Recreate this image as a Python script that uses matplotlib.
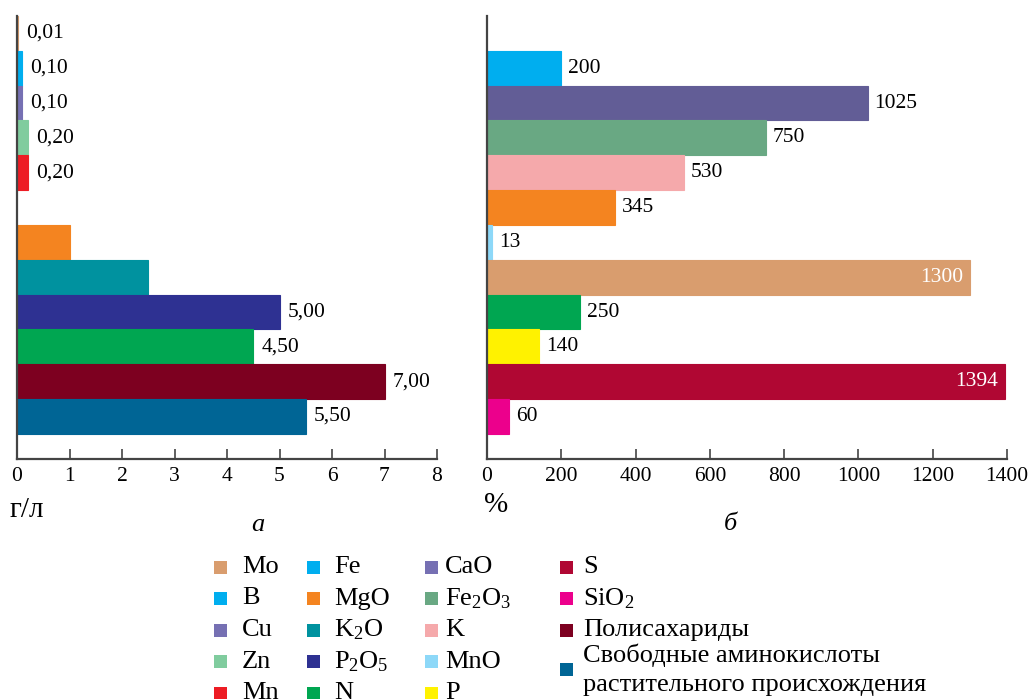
import numpy as np
import matplotlib.pyplot as plt
from matplotlib.patches import Rectangle

plt.rcParams['font.family'] = ['Liberation Serif', 'DejaVu Serif']
plt.rcParams['mathtext.fontset'] = 'stix'

# panel a: concentration, g/l (blank slot separates trace elements from the rest)
names_a = ['Mo', 'B', 'Cu', 'Zn', 'Mn', '', 'MgO', 'K2O', 'P2O5', 'N',
           'Полисахариды', 'Аминокислоты']
values_a = [0.01, 0.10, 0.10, 0.20, 0.20, np.nan, 1.0, 2.5, 5.0, 4.5, 7.0, 5.5]
labeled_a = [True, True, True, True, True, False, False, False, True, True, True, True]
colors_a = ['#D99D6E', '#00AEEF', '#7670B3', '#80CC9E', '#ED1C24', 'none',
            '#F48420', '#00929F', '#2E3192', '#00A651', '#7D0020', '#006595']

# panel b: percent
names_b = ['', 'Fe', 'CaO', 'Fe2O3', 'K', 'MgO', 'MnO', 'Mo', 'N', 'P', 'S', 'SiO2']
values_b = [np.nan, 200, 1025, 750, 530, 345, 13, 1300, 250, 140, 1394, 60]
colors_b = ['none', '#00AEEF', '#625D96', '#69A883', '#F5A9AB', '#F48420',
            '#8DD8F8', '#D99D6E', '#00A651', '#FFF200', '#B00733', '#EC008C']

# legend, column by column
legend_cols = [
    [('Mo', '#D99D6E'), ('B', '#00AEEF'), ('Cu', '#7670B3'), ('Zn', '#80CC9E'), ('Mn', '#ED1C24')],
    [('Fe', '#00AEEF'), ('MgO', '#F48420'), (r'K$\mathregular{_2}$O', '#00929F'),
     (r'P$\mathregular{_2}$O$\mathregular{_5}$', '#2E3192'), ('N', '#00A651')],
    [('CaO', '#7670B3'), (r'Fe$\mathregular{_2}$O$\mathregular{_3}$', '#69A883'), ('K', '#F5A9AB'),
     ('MnO', '#8DD8F8'), ('P', '#FFF200')],
    [('S', '#B00733'), (r'SiO$\mathregular{_2}$', '#EC008C'), ('Полисахариды', '#7D0020'),
     ('Свободные аминокислоты\nрастительного происхождения', '#006595')],
]

W, H = 1030, 699
fig = plt.figure(figsize=(W / 100, H / 100), dpi=100)


def fx(px):
    return px / W


def fy(py):
    return 1 - py / H


ax_a = fig.add_axes([fx(17), fy(459), fx(437) - fx(17), fy(16) - fy(459)])
ax_b = fig.add_axes([fx(487), fy(459), fx(1007) - fx(487), fy(16) - fy(459)])

AXCOL = '#444444'


def style_axis(ax, xmax, step):
    ax.set_xlim(0, xmax)
    ax.set_ylim(len(names_a) - 0.5 + 0.72, -0.5)
    ax.set_xticks(np.arange(0, xmax + step, step))
    ax.set_yticks([])
    for s in ['top', 'right']:
        ax.spines[s].set_visible(False)
    for s in ['left', 'bottom']:
        ax.spines[s].set_color(AXCOL)
        ax.spines[s].set_linewidth(1.6)
    ax.tick_params(axis='x', direction='in', length=7, width=1.2, color=AXCOL,
                   labelsize=15.5, pad=6)


pos_a = np.arange(len(names_a))
ax_a.barh(pos_a, values_a, height=1.0, color=colors_a, edgecolor=colors_a, linewidth=0.8)
style_axis(ax_a, 8, 1)
for i, (v, show) in enumerate(zip(values_a, labeled_a)):
    if show:
        ax_a.annotate(f'{v:.2f}'.replace('.', ','), xy=(v, i), xytext=(6, 0),
                      textcoords='offset points', va='center', ha='left', fontsize=15.5)

pos_b = np.arange(len(names_b))
ax_b.barh(pos_b, values_b, height=1.0, color=colors_b, edgecolor=colors_b, linewidth=0.8)
style_axis(ax_b, 1400, 200)
for i, v in enumerate(values_b):
    if np.isnan(v):
        continue
    if v > 1200:
        # long bars carry their value inside, in white
        ax_b.annotate(f'{int(v)}', xy=(v, i), xytext=(-5, 0),
                      textcoords='offset points', va='center', ha='right', fontsize=15.5,
                      color='white')
    else:
        ax_b.annotate(f'{int(v)}', xy=(v, i), xytext=(5, 0),
                      textcoords='offset points', va='center', ha='left', fontsize=15.5)

# axis units and panel letters
fig.text(fx(10), fy(510), 'г/л', fontsize=21, va='center', ha='left')
fig.text(fx(258), fy(525), 'а', fontsize=19, style='italic', va='center', ha='center')
fig.text(fx(484), fy(505), '%', fontsize=21, va='center', ha='left')
fig.text(fx(730), fy(524), 'б', fontsize=19, style='italic', va='center', ha='center')

# hand-placed legend below the panels
sq_x = [220, 313, 431, 566]
txt_x = [242, 334, 445, 583]
row_y0, row_dy, sq = 567, 31.5, 13
for c, col in enumerate(legend_cols):
    for r, (label, color) in enumerate(col):
        y = row_y0 + row_dy * r
        if '\n' in label:
            y += 8
        fig.add_artist(Rectangle((fx(sq_x[c] - sq / 2), fy(y + sq / 2)), sq / W, sq / H,
                                 transform=fig.transFigure, color=color, lw=0))
        fig.text(fx(txt_x[c]), fy(y), label, fontsize=19, va='center', ha='left',
                 linespacing=1.4)

fig.savefig('out.png', dpi=100)
